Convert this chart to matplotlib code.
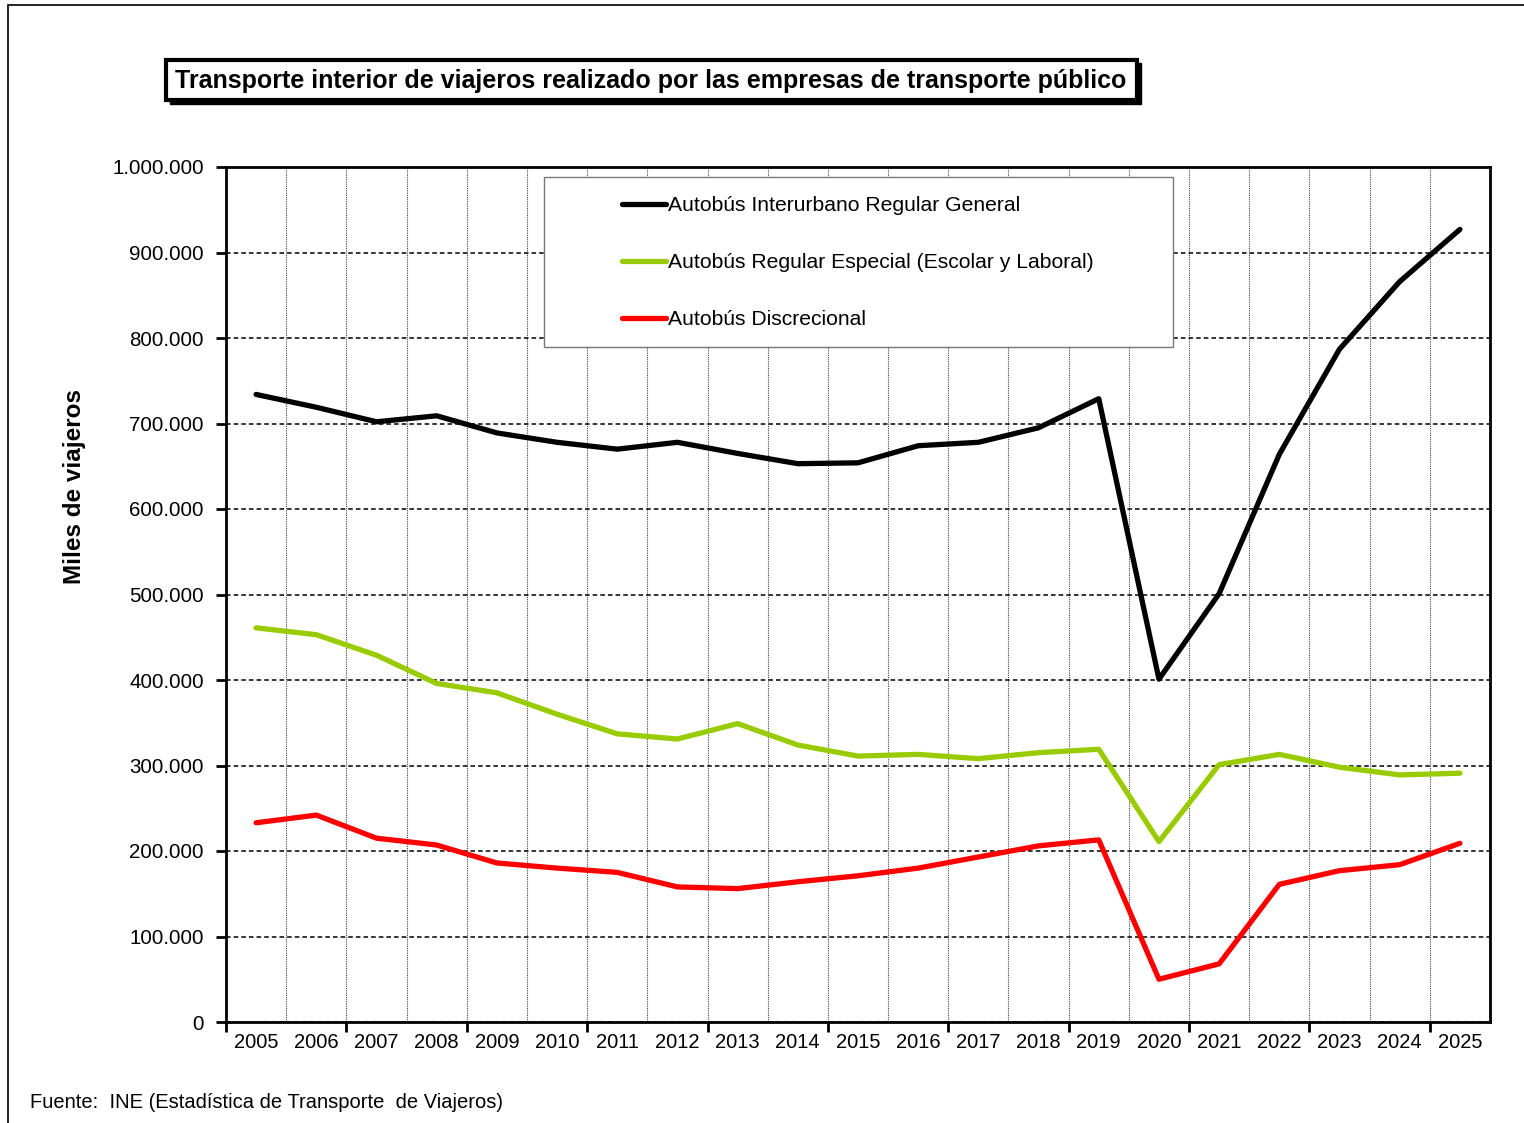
import matplotlib
matplotlib.use("Agg")
import matplotlib.pyplot as plt
from matplotlib.patches import Rectangle
from matplotlib.ticker import FuncFormatter
import numpy as np

plt.rcParams['font.family'] = ['Liberation Sans', 'DejaVu Sans']

years = [str(y) for y in range(2005, 2026)]

# miles de viajeros
interurbano = [734000, 719000, 702000, 709000, 689000, 678000, 670000, 678000, 665000, 653000,
               654000, 674000, 678000, 695000, 729000, 401000, 501000, 664000, 787000, 866000, 927000]
especial = [461000, 453000, 429000, 396000, 385000, 360000, 337000, 331000, 349000, 324000,
            311000, 313000, 308000, 315000, 319000, 211000, 301000, 313000, 298000, 289000, 291000]
discrecional = [233000, 242000, 215000, 207000, 186000, 180000, 175000, 158000, 156000, 164000,
                171000, 180000, 193000, 206000, 213000, 50000, 68000, 161000, 177000, 184000, 209000]

series_names = ['Autobús Interurbano Regular General',
                'Autobús Regular Especial (Escolar y Laboral)',
                'Autobús Discrecional']
colors = ['#000000', '#99cc00', '#ff0000']

W, H = 1524, 1123
fig = plt.figure(figsize=(W / 100, H / 100), dpi=100)

def fx(px):
    return px / W

def fy(py):
    return 1 - py / H

ax = fig.add_axes([fx(226), fy(1022), fx(1490) - fx(226), fy(167) - fy(1022)])

x = np.arange(len(years))
for vals, name, col in zip([interurbano, especial, discrecional], series_names, colors):
    ax.plot(x, vals, color=col, lw=3.8, label=name, solid_joinstyle='round',
            solid_capstyle='round', zorder=4)

ax.set_xlim(-0.5, len(years) - 0.5)
ax.set_ylim(0, 1000000)
ax.set_yticks(np.arange(0, 1000001, 100000))
ax.yaxis.set_major_formatter(FuncFormatter(lambda v, p: f"{v:,.0f}".replace(',', '.')))
ax.grid(axis='y', color='black', linestyle=(0, (3, 2)), lw=1.1, zorder=1)

# category labels at centers, tick marks on boundaries
ax.set_xticks(x)
ax.set_xticklabels(years)
ax.set_xticks(np.arange(-0.5, len(years), 2), minor=True)
ax.tick_params(axis='x', which='major', length=0, labelsize=14.5, pad=8)
ax.tick_params(axis='x', which='minor', length=7, width=2, direction='out')
ax.tick_params(axis='y', length=7, width=2, direction='out', labelsize=14.8, pad=9)
for b in np.arange(0.5, len(years) - 1, 1):
    ax.axvline(b, color='#444444', lw=0.8, linestyle=(0, (1, 1)), zorder=1)

for sp in ax.spines.values():
    sp.set_linewidth(2)
    sp.set_zorder(5)

# legend box
ax.add_patch(Rectangle((fx(544), fy(347)), fx(1173) - fx(544), fy(177) - fy(347),
                       transform=fig.transFigure, facecolor='white', edgecolor='#777777',
                       lw=1, zorder=3))
leg = ax.legend(loc='upper left', bbox_to_anchor=(fx(622), fy(196)),
                bbox_transform=fig.transFigure, frameon=False, fontsize=15.2,
                handlelength=2.1, handletextpad=0.1, labelspacing=1.8, borderpad=0,
                borderaxespad=0)
leg.set_zorder(6)

fig.text(fx(75), fy(487), 'Miles de viajeros', rotation=90, ha='center', va='center',
         fontsize=17.5, fontweight='bold')

# title box with shadow
fig.patches.append(Rectangle((fx(170), fy(104)), fx(1141) - fx(170), fy(63) - fy(104),
                             transform=fig.transFigure, facecolor='black', edgecolor='black'))
fig.patches.append(Rectangle((fx(166), fy(100)), fx(1137) - fx(166), fy(60) - fy(100),
                             transform=fig.transFigure, facecolor='white', edgecolor='black',
                             lw=3))
fig.text(fx(651), fy(81), 'Transporte interior de viajeros realizado por las empresas de transporte público',
         ha='center', va='center', fontsize=18, fontweight='bold')

fig.text(fx(30), fy(1103), 'Fuente:  INE (Estadística de Transporte  de Viajeros)',
         ha='left', va='center', fontsize=14.5)

# outer frame
fig.patches.append(Rectangle((fx(8), fy(1130)), fx(1530) - fx(8), fy(5) - fy(1130),
                             transform=fig.transFigure, facecolor='none', edgecolor='black',
                             lw=1.2))

fig.savefig('out.png', dpi=100)
